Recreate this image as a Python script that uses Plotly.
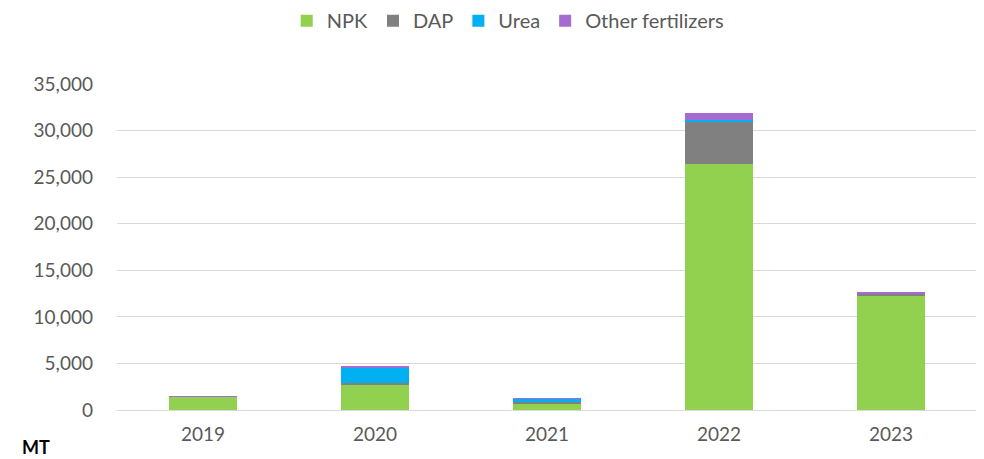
import plotly.graph_objects as go

years = ["2019", "2020", "2021", "2022", "2023"]
npk = [1400, 2720, 600, 26400, 12300]
dap = [30, 200, 250, 4580, 170]
urea = [60, 1610, 350, 160, 0]
other = [10, 100, 50, 790, 170]

series = [
    ("NPK", npk, "#92D050"),
    ("DAP", dap, "#808080"),
    ("Urea", urea, "#00B0F0"),
    ("Other fertilizers", other, "#A66BD3"),
]

fig = go.Figure()
for name, vals, col in series:
    fig.add_trace(go.Bar(x=years, y=vals, name=name, marker_color=col,
                         marker_line_width=0))

font = "Lato, 'Open Sans', sans-serif"
# page body has an 8px default margin, so the figure is sized to fit inside it
fig.update_layout(
    barmode="stack",
    bargap=0.6,
    width=976, height=451,
    margin=dict(l=109, r=7, t=76, b=49, autoexpand=False),
    plot_bgcolor="white", paper_bgcolor="white",
    font=dict(family=font, size=19, color="#595959"),
    legend=dict(orientation="h", x=0.512, xref="container", xanchor="center",
                y=0.972, yref="container", yanchor="middle",
                font=dict(size=20, color="#595959"), traceorder="normal"),
    xaxis=dict(showgrid=False, ticks="", tickfont=dict(size=19, color="#595959"),
               showline=True, linecolor="#d9d9d9", linewidth=1, ticklabelstandoff=7),
    yaxis=dict(range=[0, 35000], dtick=5000, tickformat=",", showgrid=True,
               gridcolor="#d9d9d9", gridwidth=1, zeroline=False,
               tickfont=dict(size=19, color="#595959"), ticklabelstandoff=23),
)
fig.add_annotation(text="<b>MT</b>", xref="paper", yref="paper", x=-0.113, y=-0.115,
                   xanchor="left", yanchor="middle", showarrow=False,
                   font=dict(size=18, color="black", family=font))
fig.write_html("out.html")
